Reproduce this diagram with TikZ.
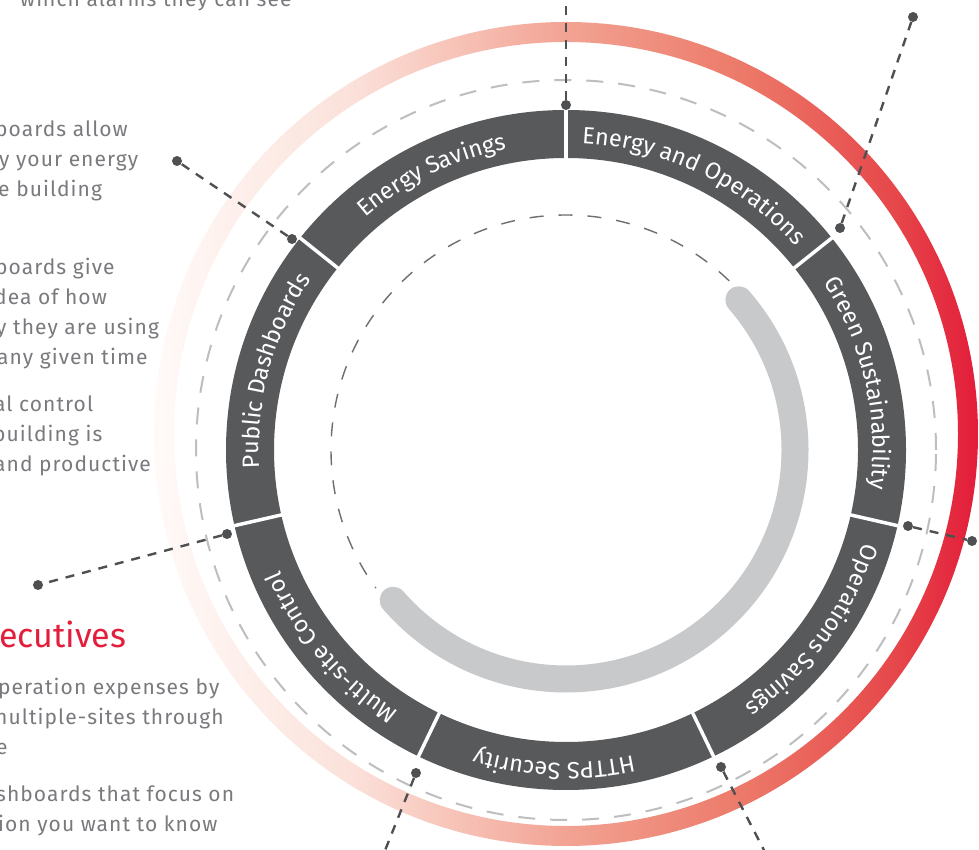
\documentclass[tikz,border=0pt]{standalone}
\usepackage{fontspec}
\setmainfont{Fira Sans}
\newfontfamily\bodyfamily[LetterSpace=5]{Fira Sans}
\usetikzlibrary{calc,decorations.text}
\definecolor{ringgray}{HTML}{58595B}
\definecolor{arcgray}{HTML}{C8C9CB}
\definecolor{dashlight}{HTML}{BDBEC0}
\definecolor{dashdark}{HTML}{6D6E71}
\definecolor{conncol}{HTML}{4F5052}
\definecolor{bodygray}{HTML}{797A7D}
\definecolor{headred}{HTML}{E31E3C}
\definecolor{rsa}{HTML}{FFFAF8}
\definecolor{rsb}{HTML}{FBE1DA}
\definecolor{rsc}{HTML}{F2A393}
\definecolor{rsd}{HTML}{EC7868}
\definecolor{rse}{HTML}{E6474A}
\definecolor{rsf}{HTML}{E31C3A}
\pgfdeclarehorizontalshading{redring}{100bp}{color(0bp)=(rsa); color(25bp)=(rsa); color(37bp)=(rsb); color(50bp)=(rsc); color(61bp)=(rsd); color(70bp)=(rse); color(75bp)=(rsf); color(100bp)=(rsf)}
\newcommand\ringfont{\fontsize{23.5}{23.5}\selectfont}
\tikzset{
  ringtext/.style={decorate, decoration={text along path, text={|\ringfont|#1}, text align=center, text color=white}},
  dot/.style={circle, fill=conncol, inner sep=0pt, minimum size=10pt},
  conn/.style={draw=conncol, line width=2.4pt, dash pattern=on 9pt off 8pt},
  body/.style={text=bodygray, font=\bodyfamily\fontsize{21}{21}\selectfont, inner sep=0pt, anchor=base west},
  divider/.style={draw=white, line width=3.5pt},
}
\begin{document}
\begin{tikzpicture}[x=1pt,y=1pt]
\useasboundingbox (0,0) rectangle (979,850);
\clip (0,0) rectangle (979,850);
\fill[white] (0,0) rectangle (979,850);
\coordinate (C) at (566,400);
\coordinate (R) at (566,416);
% gradient ring
\shade[shading=redring, even odd rule] (R) circle[radius=412] (R) circle[radius=392];
% outer light dashed circle
\draw[dashlight, line width=2pt, dash pattern=on 17pt off 15pt] (C) circle[radius=370];
% dark ring
\draw[ringgray, line width=48pt] (C) circle[radius=316];
\foreach \a in {90,38.571,-12.857,-64.286,-115.714,-167.143,141.429}
  \draw[divider] ($(C)+(\a:290)$) -- ($(C)+(\a:342)$);
% inner dashed arc and grey arc
\draw[dashdark, line width=1.4pt, dash pattern=on 14pt off 15pt] ($(C)+(46:235)$) arc[start angle=46, end angle=216, radius=235];
\draw[arcgray, line width=27pt, line cap=round] ($(C)+(41:229)$) arc[start angle=41, end angle=-139, radius=229];
% ring labels
\path[ringtext={Energy and Operations}] ($(C)+(89.5:307)$) arc[start angle=89.5, end angle=39.1, radius=307];
\path[ringtext={Green Sustainability}] ($(C)+(37.6:307)$) arc[start angle=37.6, end angle=-11.9, radius=307];
\path[ringtext={Operations Savings}] ($(C)+(-11.5:312)$) arc[start angle=-11.5, end angle=-60.9, radius=312];
\path[ringtext={HTTPS Security}] ($(C)+(-67.5:313)$) arc[start angle=-67.5, end angle=-116.9, radius=313];
\path[ringtext={Multi-site Control}] ($(C)+(-115.2:311)$) arc[start angle=-115.2, end angle=-164.6, radius=311];
\path[ringtext={Public Dashboards}] ($(C)+(-170.5:307)$) arc[start angle=-170.5, end angle=-220, radius=307];
\path[ringtext={Energy Savings}] ($(C)+(-219.3:307)$) arc[start angle=-219.3, end angle=-268.7, radius=307];
% dots and connectors
\node[dot] (dTop) at (566,745) {};
\coordinate (fTop) at (566,860);
\node[dot] (dER) at (840,622) {};
\node[dot] (dERo) at (913,833) {};
\node[dot] (dR) at (908,324) {};
\node[dot] (dRo) at (972,309) {};
\node[dot] (dBR) at (721,83) {};
\coordinate (fBR) at (768,-8);
\node[dot] (dBL) at (416,77) {};
\coordinate (fBL) at (382,-8);
\node[dot] (dL) at (227,316) {};
\node[dot] (dLo) at (38,265) {};
\node[dot] (dUL) at (292,611) {};
\node[dot] (dULo) at (177,689) {};
\draw[conn] (dTop) -- (fTop);
\draw[conn] (dER) -- (dERo);
\draw[conn] (dR) -- (dRo);
\draw[conn] (dBR) -- (fBR);
\draw[conn] (dBL) -- (fBL);
\draw[conn] (dL) -- (dLo);
\draw[conn] (dUL) -- (dULo);
% body text
\node[body] (t1) at (20,843) {which alarms they can see};
\node[body] (t2) at (-5,713) {boards allow};
\node[body] (t3) at (-1,683) {y your energy};
\node[body] (t4) at (-2,653) {e building};
\node[body] (t5) at (-5,575) {boards give};
\node[body] (t6) at (-6,545) {dea of how};
\node[body] (t7) at (-4,515) {y they are using};
\node[body] (t8) at (-3,485) {any given time};
\node[body] (t9) at (-6,438) {al control};
\node[body] (t10) at (-7,408) {building is};
\node[body] (t11) at (-6,378) {and productive};
\node[body, text=headred, font=\fontsize{34}{34}\selectfont] (h1) at (-1,202) {ecutives};
\node[body] (t12) at (-2,155) {peration expenses by};
\node[body] (t13) at (-5,125) {nultiple-sites through};
\node[body] (t14) at (-4,95) {e};
\node[body] (t15) at (-4,48) {shboards that focus on};
\node[body] (t16) at (-2,18) {ion you want to know};
\end{tikzpicture}
\end{document}
